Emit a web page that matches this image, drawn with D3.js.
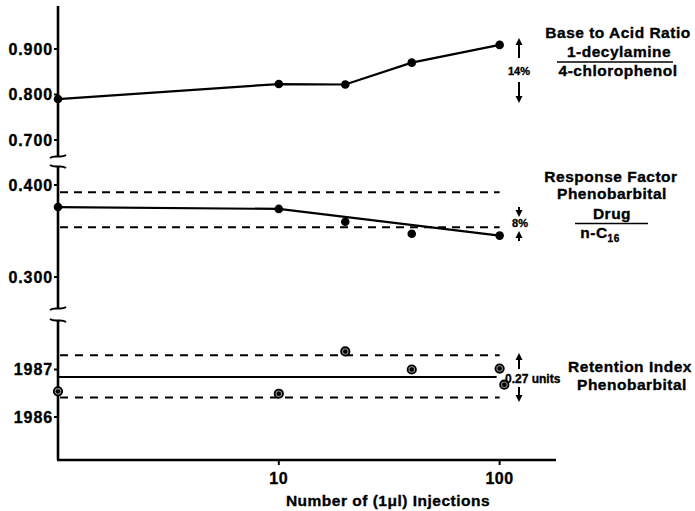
<!DOCTYPE html>
<html>
<head>
<meta charset="utf-8">
<script src="https://cdn.jsdelivr.net/npm/d3@7"></script>
<style>
  html, body { margin: 0; padding: 0; background: #fff; }
  svg { display: block; }
  text { font-family: "Liberation Sans", Arial, Helvetica, sans-serif; font-weight: bold; fill: #000; stroke: #000; stroke-width: 0.35px; }
</style>
</head>
<body>
<svg id="chart" width="695" height="511"></svg>
<script>
// ---- data ----
const xTicks = [10, 100];
const topTicks = [0.700, 0.800, 0.900];
const midTicks = [0.300, 0.400];
const botTicks = [1986, 1987];

const injections = [1, 10, 20, 40, 100];
const baseAcidRatio = [0.790, 0.823, 0.822, 0.870, 0.909];

const responseFactor = [0.376, 0.374, 0.360, 0.347, 0.345];
const responseFitX = [1, 10, 100];
const responseFit = [0.376, 0.374, 0.345];
const responseLimits = [0.392, 0.354];

const retentionX = [1, 10, 20, 40, 100, 105];
const retentionIndex = [1986.54, 1986.49, 1987.38, 1987.00, 1987.02, 1986.68];
const retentionMean = 1986.84;
const retentionLimits = [1987.30, 1986.41];

// ---- scales ----
const svg = d3.select("#chart");
const x = d3.scaleLog().domain([1, 180]).range([58, 556]);
const yTop = d3.scaleLinear().domain([0.7, 0.9]).range([140, 49]);
const yMid = d3.scaleLinear().domain([0.3, 0.4]).range([277, 185]);
const yBot = d3.scaleLinear().domain([1986, 1987]).range([417, 369.5]);
const segs = [[6, 156], [166, 308], [320, 460]];
const x0 = x(1), x100 = x(100);

const fmt3 = d3.format(".3f");
const line = d3.line().x(d => d[0]).y(d => d[1]);

// ---- y axis segments ----
segs.forEach(s => {
  svg.append("line").attr("x1", x0).attr("x2", x0).attr("y1", s[0]).attr("y2", s[1])
    .attr("stroke", "#000").attr("stroke-width", 2.6);
});
// break marks
function brk(y, flip) {
  const d = flip
    ? `M${x0-8},${y+2} C${x0-3},${y-2} ${x0+3},${y+3} ${x0+8},${y-1}`
    : `M${x0-8},${y-1} C${x0-3},${y+3} ${x0+3},${y-2} ${x0+8},${y+2}`;
  svg.append("path").attr("d", d).attr("fill", "none").attr("stroke", "#000").attr("stroke-width", 2);
}
brk(156, true); brk(166, false); brk(308, true); brk(320, false);

function yAxis(scale, ticks, f) {
  const g = svg.append("g");
  ticks.forEach(t => {
    const yy = scale(t);
    g.append("line").attr("x1", x0 - 4).attr("x2", x0).attr("y1", yy).attr("y2", yy)
      .attr("stroke", "#000").attr("stroke-width", 2);
    g.append("text").attr("x", x0 - 5).attr("y", yy).attr("dy", "0.36em")
      .attr("text-anchor", "end").style("font-size", "16px").style("letter-spacing", "0.9px")
      .text(f(t));
  });
}
yAxis(yTop, topTicks, fmt3);
yAxis(yMid, midTicks, fmt3);
yAxis(yBot, botTicks, d3.format("d"));

// ---- x axis ----
svg.append("line").attr("x1", x0 - 1).attr("x2", x(180)).attr("y1", 460).attr("y2", 460)
  .attr("stroke", "#000").attr("stroke-width", 2.6);
xTicks.forEach(t => {
  svg.append("line").attr("x1", x(t)).attr("x2", x(t)).attr("y1", 460).attr("y2", 465)
    .attr("stroke", "#000").attr("stroke-width", 2);
  svg.append("text").attr("x", x(t)).attr("y", 484).attr("text-anchor", "middle")
    .style("font-size", "16px").style("letter-spacing", "0.6px").text(t);
});
svg.append("text").attr("x", 388).attr("y", 506).attr("text-anchor", "middle")
  .style("font-size", "15.5px").style("letter-spacing", "0.5px").text("Number of (1\u03BCl) Injections");

// ---- top panel: base to acid ratio ----
svg.append("path").attr("d", line(injections.map((v, i) => [x(v), yTop(baseAcidRatio[i])])))
  .attr("fill", "none").attr("stroke", "#000").attr("stroke-width", 2.2);
svg.selectAll(".pt1").data(injections).enter().append("circle")
  .attr("cx", d => x(d)).attr("cy", (d, i) => yTop(baseAcidRatio[i])).attr("r", 4.3).attr("fill", "#000");

// ---- middle panel: response factor ----
responseLimits.forEach(v => {
  svg.append("line").attr("x1", x0 + 2).attr("x2", x100).attr("y1", yMid(v)).attr("y2", yMid(v))
    .attr("stroke", "#000").attr("stroke-width", 2).attr("stroke-dasharray", "8,6");
});
svg.append("path").attr("d", line(responseFitX.map((v, i) => [x(v), yMid(responseFit[i])])))
  .attr("fill", "none").attr("stroke", "#000").attr("stroke-width", 2.2);
svg.selectAll(".pt2").data(injections).enter().append("circle")
  .attr("cx", d => x(d)).attr("cy", (d, i) => yMid(responseFactor[i])).attr("r", 4.3).attr("fill", "#000");

// ---- bottom panel: retention index ----
retentionLimits.forEach(v => {
  svg.append("line").attr("x1", x0 + 2).attr("x2", x100).attr("y1", yBot(v)).attr("y2", yBot(v))
    .attr("stroke", "#000").attr("stroke-width", 2).attr("stroke-dasharray", "8,7");
});
svg.append("line").attr("x1", x0).attr("x2", x100 - 3).attr("y1", yBot(retentionMean)).attr("y2", yBot(retentionMean))
  .attr("stroke", "#000").attr("stroke-width", 2);
const bp = svg.selectAll(".pt3").data(retentionX).enter().append("g")
  .attr("transform", (d, i) => `translate(${x(d)},${yBot(retentionIndex[i])})`);
bp.append("circle").attr("r", 4.2).attr("fill", "#888").attr("stroke", "#000").attr("stroke-width", 1.8);
bp.append("circle").attr("r", 2.2).attr("fill", "#000");

// ---- arrows ----
function arrow(xx, yTail, yTip) {
  const dir = yTip > yTail ? 1 : -1;
  svg.append("line").attr("x1", xx).attr("x2", xx).attr("y1", yTail).attr("y2", yTip - dir * 5)
    .attr("stroke", "#000").attr("stroke-width", 2);
  svg.append("path").attr("d", `M${xx},${yTip} L${xx - 3.5},${yTip - dir * 7} L${xx + 3.5},${yTip - dir * 7} Z`)
    .attr("fill", "#000");
}
arrow(519, 58, 38); arrow(519, 82, 103);
arrow(519, 207, 217); arrow(519, 241, 231);
arrow(519, 369, 353); arrow(519, 387, 402);

svg.append("text").attr("x", 519).attr("y", 75).attr("text-anchor", "middle").style("font-size", "11px").text("14%");
svg.append("text").attr("x", 520).attr("y", 227).attr("text-anchor", "middle").style("font-size", "11px").text("8%");
svg.append("text").attr("x", 505).attr("y", 383).style("font-size", "12px").text("0.27 units");

// ---- right labels ----
function lab(t, xx, yy, size) {
  return svg.append("text").attr("x", xx).attr("y", yy).attr("text-anchor", "middle")
    .style("font-size", (size || 15.5) + "px").style("letter-spacing", "0.5px").text(t);
}
function rule(x1, x2, yy) {
  svg.append("line").attr("x1", x1).attr("x2", x2).attr("y1", yy).attr("y2", yy)
    .attr("stroke", "#000").attr("stroke-width", 1.5);
}
lab("Base to Acid Ratio", 618, 37.5);
lab("1-decylamine", 619, 57);
rule(557, 673, 62);
lab("4-chlorophenol", 618, 76);

lab("Response Factor", 611, 182);
lab("Phenobarbital", 612, 199);
lab("Drug", 612, 219);
rule(575, 648, 223.5);
const nc = lab("n-C", 600, 238);
nc.append("tspan").attr("dy", 4).style("font-size", "10px").text("16");

lab("Retention Index", 630, 372);
lab("Phenobarbital", 632, 390);
</script>
</body>
</html>
